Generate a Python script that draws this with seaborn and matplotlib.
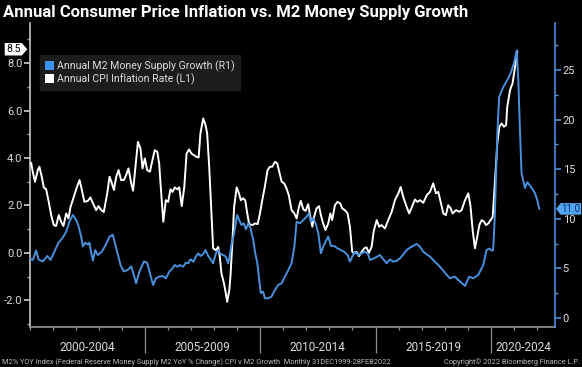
import matplotlib
matplotlib.use("Agg")
import numpy as np
import pandas as pd
import matplotlib.pyplot as plt
import matplotlib.transforms as mtransforms
from matplotlib.path import Path
from matplotlib.patches import Patch
from matplotlib.ticker import MultipleLocator, FixedLocator, NullFormatter, FormatStrFormatter
import seaborn as sns

# ---------------- data ----------------
TITLE = "Annual Consumer Price Inflation vs. M2 Money Supply Growth"
M2_NAME = "Annual M2 Money Supply Growth (R1)"
CPI_NAME = "Annual CPI Inflation Rate (L1)"
PERIOD_STARTS = [2000, 2005, 2010, 2015, 2020]
PERIOD_LABELS = ["2000-2004", "2005-2009", "2010-2014", "2015-2019", "2020-2024"]
FOOTER_LEFT = ("M2% YOY Index (Federal Reserve Money Supply M2 YoY % Change) CPI v M2 Growth  "
               "Monthly 31DEC1999-28FEB2022")
FOOTER_RIGHT = "Copyright\u00a9 2022 Bloomberg Finance L.P."
CPI_LAST_LABEL = "8.5"
M2_LAST_LABEL = "11.0"

cpi_year = [
    2000.00, 2000.07, 2000.14, 2000.24, 2000.36, 2000.43, 2000.53, 2000.62, 2000.72, 2000.82,
    2000.94, 2001.05, 2001.15, 2001.27, 2001.37, 2001.47, 2001.59, 2001.69, 2001.78, 2001.92,
    2002.07, 2002.17, 2002.27, 2002.38, 2002.53, 2002.64, 2002.74, 2002.89, 2002.99, 2003.11,
    2003.22, 2003.37, 2003.47, 2003.57, 2003.66, 2003.76, 2003.86, 2003.97, 2004.09, 2004.19,
    2004.29, 2004.41, 2004.49, 2004.58, 2004.70, 2004.81, 2004.90, 2005.00, 2005.10, 2005.22,
    2005.33, 2005.43, 2005.54, 2005.62, 2005.69, 2005.80, 2005.91, 2006.01, 2006.11, 2006.20,
    2006.30, 2006.40, 2006.49, 2006.60, 2006.71, 2006.81, 2006.92, 2007.02, 2007.12, 2007.24,
    2007.33, 2007.41, 2007.53, 2007.63, 2007.70, 2007.79, 2007.89, 2007.96, 2008.08, 2008.18,
    2008.25, 2008.32, 2008.43, 2008.51, 2008.57, 2008.66, 2008.71, 2008.80, 2008.87, 2008.98,
    2009.08, 2009.16, 2009.26, 2009.35, 2009.44, 2009.52, 2009.67, 2009.77, 2009.89, 2009.99,
    2010.09, 2010.20, 2010.32, 2010.42, 2010.52, 2010.64, 2010.74, 2010.81, 2010.93, 2011.04,
    2011.14, 2011.24, 2011.36, 2011.48, 2011.58, 2011.68, 2011.76, 2011.87, 2011.97, 2012.08,
    2012.16, 2012.26, 2012.34, 2012.44, 2012.55, 2012.63, 2012.73, 2012.83, 2012.95, 2013.04,
    2013.12, 2013.24, 2013.35, 2013.47, 2013.56, 2013.67, 2013.79, 2013.89, 2013.99, 2014.08,
    2014.18, 2014.28, 2014.40, 2014.51, 2014.61, 2014.71, 2014.83, 2014.92, 2015.05, 2015.16,
    2015.26, 2015.41, 2015.55, 2015.70, 2015.84, 2015.99, 2016.09, 2016.20, 2016.35, 2016.46,
    2016.61, 2016.71, 2016.81, 2016.93, 2017.07, 2017.22, 2017.36, 2017.50, 2017.62, 2017.72,
    2017.82, 2017.94, 2018.05, 2018.15, 2018.26, 2018.34, 2018.49, 2018.63, 2018.73, 2018.88,
    2019.02, 2019.12, 2019.21, 2019.31, 2019.41, 2019.50, 2019.60, 2019.70, 2019.79, 2019.89,
    2019.99, 2020.08, 2020.18, 2020.28, 2020.37, 2020.47, 2020.57, 2020.66, 2020.71, 2020.83,
    2020.94, 2021.05, 2021.15,
]
cpi_value = [
    3.70, 3.80, 3.42, 3.00, 3.49, 3.63, 3.21, 2.76, 2.68, 2.22,
    1.59, 1.17, 1.13, 1.59, 1.31, 1.13, 1.66, 1.45, 1.94, 2.36,
    2.81, 3.07, 2.65, 2.15, 2.19, 2.34, 2.11, 1.80, 1.97, 1.80,
    1.72, 2.51, 3.21, 2.93, 2.65, 3.21, 3.49, 3.07, 3.07, 3.28,
    3.56, 2.93, 2.62, 3.49, 4.68, 4.40, 3.56, 3.98, 3.49, 3.42,
    3.91, 4.33, 4.26, 3.77, 2.78, 1.31, 2.22, 2.15, 2.68, 2.57,
    2.76, 2.68, 2.76, 1.97, 2.78, 4.19, 4.36, 4.19, 4.12, 4.05,
    4.02, 5.04, 5.67, 5.39, 5.04, 3.63, 1.66, 0.19, 0.11, 0.25,
    -0.17, -0.87, -1.29, -1.71, -2.07, -1.57, -1.01, 0.54, 1.94, 2.76,
    2.51, 2.22, 2.30, 2.22, 1.66, 1.21, 1.17, 1.24, 1.21, 1.66,
    2.22, 2.78, 3.49, 3.63, 3.63, 3.84, 3.77, 3.49, 3.00, 2.93,
    2.72, 2.43, 1.80, 1.66, 1.45, 1.94, 2.19, 1.83, 1.77, 2.05,
    1.59, 1.10, 1.52, 1.87, 1.97, 1.59, 1.24, 0.96, 1.24, 1.66,
    1.38, 2.01, 2.15, 2.08, 1.87, 1.80, 1.66, 1.10, 0.04, -0.03,
    0.04, -0.14, 0.04, 0.19, 0.23, 0.00, 0.25, 0.90, 1.38, 1.10,
    1.17, 1.03, 1.38, 1.73, 2.22, 2.51, 2.78, 2.36, 1.94, 1.66,
    2.01, 2.25, 2.15, 2.22, 2.11, 2.43, 2.57, 2.93, 2.51, 2.57,
    2.15, 1.66, 1.59, 2.01, 1.87, 1.66, 1.80, 1.73, 1.80, 2.22,
    2.51, 1.94, 0.96, 0.19, 0.68, 1.17, 1.38, 1.31, 1.17, 1.24,
    1.38, 1.52, 3.07, 4.62, 5.32, 5.46, 5.32, 5.39, 6.16, 6.86,
    7.15, 7.85, 8.50,
]

m2_year = [
    2000.00, 2000.14, 2000.29, 2000.39, 2000.58, 2000.77, 2000.91, 2001.08, 2001.26, 2001.44,
    2001.59, 2001.73, 2001.88, 2002.02, 2002.12, 2002.24, 2002.31, 2002.41, 2002.53, 2002.60,
    2002.67, 2002.75, 2002.85, 2002.96, 2003.14, 2003.32, 2003.47, 2003.61, 2003.71, 2003.83,
    2003.95, 2004.09, 2004.26, 2004.41, 2004.52, 2004.62, 2004.77, 2004.96, 2005.10, 2005.22,
    2005.36, 2005.48, 2005.62, 2005.77, 2005.91, 2006.06, 2006.20, 2006.30, 2006.40, 2006.52,
    2006.66, 2006.78, 2006.88, 2006.98, 2007.10, 2007.21, 2007.31, 2007.41, 2007.53, 2007.63,
    2007.75, 2007.85, 2007.96, 2008.08, 2008.18, 2008.28, 2008.40, 2008.51, 2008.61, 2008.69,
    2008.76, 2008.84, 2008.92, 2009.00, 2009.09, 2009.19, 2009.29, 2009.38, 2009.48, 2009.58,
    2009.70, 2009.78, 2009.88, 2009.95, 2010.03, 2010.13, 2010.20, 2010.35, 2010.49, 2010.64,
    2010.78, 2010.93, 2011.07, 2011.22, 2011.36, 2011.48, 2011.58, 2011.72, 2011.87, 2012.01,
    2012.11, 2012.20, 2012.30, 2012.40, 2012.52, 2012.63, 2012.73, 2012.83, 2012.95, 2013.07,
    2013.21, 2013.35, 2013.50, 2013.64, 2013.79, 2013.89, 2013.99, 2014.11, 2014.25, 2014.40,
    2014.54, 2014.66, 2014.76, 2014.94, 2015.19, 2015.48, 2015.62, 2015.77, 2015.90, 2016.06,
    2016.20, 2016.35, 2016.50, 2016.65, 2016.78, 2016.93, 2017.07, 2017.36, 2017.79, 2018.22,
    2018.44, 2018.59, 2018.88, 2019.06, 2019.23, 2019.45, 2019.67, 2019.81, 2019.93, 2020.03,
    2020.10, 2020.17, 2020.28, 2020.36, 2020.54, 2020.71, 2020.86, 2021.00, 2021.12, 2021.19,
    2021.26, 2021.33, 2021.48, 2021.58, 2021.77, 2021.91, 2022.01, 2022.10,
]
m2_value = [
    6.00, 5.85, 6.80, 5.90, 5.70, 6.25, 5.85, 6.70, 7.60, 8.10,
    8.70, 9.70, 10.40, 9.90, 9.30, 8.20, 7.20, 7.60, 7.40, 7.60,
    6.60, 5.80, 6.85, 6.35, 6.70, 7.45, 8.20, 8.40, 7.50, 6.45,
    5.30, 4.70, 4.85, 5.20, 4.35, 3.50, 4.70, 5.70, 5.58, 4.50,
    3.33, 4.00, 4.17, 4.23, 4.00, 4.67, 5.01, 5.34, 5.17, 5.34,
    5.17, 5.58, 5.51, 5.92, 5.68, 6.18, 6.52, 6.25, 6.45, 6.85,
    6.25, 5.92, 5.51, 6.52, 6.85, 6.45, 6.35, 6.18, 5.51, 6.35,
    7.53, 8.20, 9.20, 10.38, 9.88, 9.38, 9.55, 8.94, 9.55, 9.04,
    7.86, 6.60, 5.50, 4.00, 2.50, 2.65, 1.99, 1.99, 2.15, 2.82,
    3.33, 3.50, 4.17, 4.84, 5.51, 7.19, 9.71, 9.55, 9.88, 10.21,
    10.55, 9.71, 10.05, 9.55, 8.54, 6.52, 7.19, 7.69, 8.20, 7.26,
    7.26, 7.02, 6.85, 6.68, 6.35, 5.68, 6.18, 6.68, 6.35, 6.52,
    6.68, 6.52, 5.85, 6.02, 6.35, 5.51, 5.90, 5.68, 5.75, 6.02,
    6.40, 6.85, 7.10, 7.30, 7.46, 7.19, 6.68, 6.18, 5.17, 4.00,
    4.17, 3.83, 3.23, 4.17, 4.00, 4.33, 5.34, 6.85, 7.00, 6.80,
    6.85, 10.20, 18.60, 22.30, 23.30, 24.00, 24.70, 25.70, 27.00, 24.00,
    19.00, 14.60, 13.10, 13.70, 13.10, 12.60, 11.90, 11.00,
]

cpi_df = pd.DataFrame({"year": cpi_year, "value": cpi_value})
m2_df = pd.DataFrame({"year": m2_year, "value": m2_value})

# ---------------- style ----------------
BG = "black"
BLUE_LINE = "#4a90dc"
BLUE_PATCH = "#3d93ee"
TAG_BLUE = "#52a6f2"
TXT = "#dcdcdc"
GRAY_AX = "#8f8f8f"

sns.set_theme(style="ticks")
plt.rcParams["font.family"] = ["Roboto", "DejaVu Sans"]
plt.rcParams["axes.unicode_minus"] = False


def tag_right(x0, y0, width, height, mutation_size):
    pad = 0.12 * mutation_size
    x0, y0 = x0 - pad, y0 - pad
    x1, y1 = x0 + width + 2 * pad, y0 + height + 2 * pad
    tip = 0.45 * (y1 - y0)
    ym = 0.5 * (y0 + y1)
    return Path([(x0, y0), (x1, y0), (x1 + tip, ym), (x1, y1), (x0, y1), (x0, y0)], closed=True)


def tag_left(x0, y0, width, height, mutation_size):
    pad = 0.08 * mutation_size
    x0, y0 = x0 - pad, y0 - pad
    x1, y1 = x0 + width + 2 * pad, y0 + height + 2 * pad
    tip = 0.4 * (y1 - y0)
    ym = 0.5 * (y0 + y1)
    return Path([(x0, y0), (x1, y0), (x1, y1), (x0, y1), (x0 - tip, ym), (x0, y0)], closed=True)


fig = plt.figure(figsize=(5.82, 3.67), dpi=100, facecolor=BG)
ax = fig.add_axes([0.0507, 0.109, 0.9029, 0.828])
ax.set_facecolor(BG)
ax2 = ax.twinx()

sns.lineplot(data=cpi_df, x="year", y="value", ax=ax, color="white", lw=1.4,
             estimator=None, sort=False, zorder=3)
sns.lineplot(data=m2_df, x="year", y="value", ax=ax2, color=BLUE_LINE, lw=1.4,
             estimator=None, sort=False, zorder=3)

XMIN, XMAX = 2000.0, 2022.78
ax.set_xlim(XMIN, XMAX)
ax.set_ylim(-3.13, 9.69)
ax2.set_ylim(-0.91, 29.74)

for a in (ax, ax2):
    a.set_xlabel("")
    a.set_ylabel("")
    a.grid(False)

# spines
ax.spines["top"].set_visible(False)
ax.spines["right"].set_visible(False)
ax.spines["left"].set_color("#c4c4c4")
ax.spines["bottom"].set_color(GRAY_AX)
for s in ("top", "left", "bottom"):
    ax2.spines[s].set_visible(False)
ax2.spines["right"].set_color(BLUE_LINE)
ax2.spines["right"].set_linewidth(1.2)
ax.spines["left"].set_linewidth(1.2)

# left y axis
ax.yaxis.set_major_locator(FixedLocator([-2, 0, 2, 4, 6, 8]))
ax.yaxis.set_minor_locator(MultipleLocator(1))
ax.yaxis.set_major_formatter(FormatStrFormatter("%.1f"))
ax.tick_params(axis="y", which="major", direction="out", length=4, width=1.2,
               color="#d0d0d0", labelcolor=TXT, labelsize=8, pad=1)
ax.tick_params(axis="y", which="minor", direction="out", length=2, width=1,
               color="#a0a0a0")

# right y axis
ax2.yaxis.set_major_locator(FixedLocator([0, 5, 10, 15, 20, 25]))
ax2.yaxis.set_minor_locator(MultipleLocator(2.5))
ax2.tick_params(axis="y", which="major", direction="out", length=4, width=1.2,
                color=BLUE_LINE, labelcolor=TXT, labelsize=8, pad=1.5)
ax2.tick_params(axis="y", which="minor", direction="out", length=2, width=1,
                color=BLUE_LINE)

# x axis: yearly ticks, long separators between 5-year bands
ax.xaxis.set_major_locator(FixedLocator(PERIOD_STARTS[1:]))
ax.xaxis.set_minor_locator(MultipleLocator(1))
ax.xaxis.set_major_formatter(NullFormatter())
ax.tick_params(axis="x", which="major", direction="out", length=19, width=0.9,
               color=GRAY_AX)
ax.tick_params(axis="x", which="minor", direction="out", length=2.5, width=0.9,
               color=GRAY_AX)

trans = mtransforms.blended_transform_factory(ax.transData, ax.transAxes)
for start, lab in zip(PERIOD_STARTS, PERIOD_LABELS):
    end = min(start + 5, XMAX)
    ax.text((start + end) / 2, -0.068, lab, transform=trans, ha="center", va="center",
            color=TXT, fontsize=8.5)

# last-value tags
ax.annotate(CPI_LAST_LABEL, xy=(0, cpi_value[-1]), xycoords=("axes fraction", "data"),
            xytext=(-6.5, 1.5), textcoords="offset points", ha="right", va="center",
            fontsize=7.5, color="black", annotation_clip=False,
            bbox=dict(boxstyle=tag_right, fc="white", ec="none"), zorder=6)
ax2.annotate(M2_LAST_LABEL, xy=(1, m2_value[-1]), xycoords=("axes fraction", "data"),
             xytext=(4.6, 0), textcoords="offset points", ha="left", va="center",
             fontsize=7, color="#0c2a66", annotation_clip=False,
             bbox=dict(boxstyle=tag_left, fc=TAG_BLUE, ec="none"), zorder=6)

# legend
handles = [Patch(facecolor=BLUE_PATCH, edgecolor="none", label=M2_NAME),
           Patch(facecolor="white", edgecolor="none", label=CPI_NAME)]
leg = ax2.legend(handles=handles, loc="upper left", bbox_to_anchor=(0.02, 0.895),
                 frameon=True, fancybox=False, facecolor="#1c1c1c", edgecolor="#1c1c1c",
                 framealpha=1, fontsize=7.6, labelcolor=TXT, handlelength=0.8,
                 handleheight=0.9, handletextpad=0.35, borderpad=0.5, labelspacing=0.15,
                 borderaxespad=0)
leg.set_zorder(10)

# title and footer
fig.text(0.006, 0.966, TITLE, ha="left", va="center", color="white", fontsize=12,
         fontweight="bold")
fig.text(0.004, 0.014, FOOTER_LEFT, ha="left", va="center", color="#bdbdbd", fontsize=5.3)
fig.text(0.996, 0.014, FOOTER_RIGHT, ha="right", va="center", color="#bdbdbd", fontsize=5.3)

fig.savefig("out.png", dpi=100, facecolor=BG)
